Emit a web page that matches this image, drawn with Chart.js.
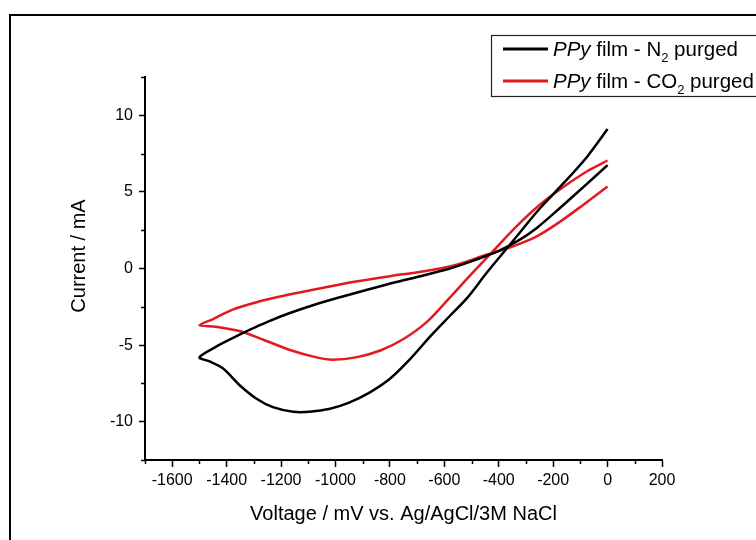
<!DOCTYPE html>
<html>
<head>
<meta charset="utf-8">
<script src="https://cdn.jsdelivr.net/npm/chart.js@4/dist/chart.umd.min.js"></script>
<style>
  html, body { margin: 0; padding: 0; background: #fff; }
  #wrap { width: 756px; height: 540px; position: relative; }
</style>
</head>
<body>
<div id="wrap"><canvas id="cv" width="756" height="540"></canvas></div>
<script>
// Cyclic voltammograms: forward sweep 0 -> -1500 mV, then return sweep -1500 -> 0 mV
const n2Voltage = [0, -75, -160, -250, -320, -385, -445, -515, -580, -650, -725, -800, -875, -950, -1020, -1095, -1155, -1230, -1290, -1350, -1415, -1465, -1500,
                   -1440, -1380, -1320, -1250, -1170, -1080, -980, -880, -780, -680, -580, -480, -400, -330, -260, -175, -90, 0];
const n2Current = [9.1, 7.3, 5.6, 3.9, 2.4, 1.0, -0.3, -1.9, -3.1, -4.4, -5.9, -7.2, -8.1, -8.75, -9.15, -9.35, -9.35, -9.05, -8.5, -7.65, -6.5, -6.05, -5.8,
                   -5.12, -4.56, -4.04, -3.48, -2.92, -2.38, -1.86, -1.37, -0.9, -0.47, 0.0, 0.6, 1.15, 1.8, 2.65, 3.95, 5.3, 6.75];

const co2Voltage = [0, -75, -160, -250, -335, -420, -505, -585, -665, -750, -835, -925, -1010, -1070, -1170, -1265, -1350, -1440, -1500,
                    -1450, -1380, -1290, -1170, -1045, -925, -800, -680, -565, -445, -355, -260, -175, -90, 0];
const co2Current = [7.05, 6.35, 5.35, 4.15, 2.75, 1.15, -0.45, -2.0, -3.5, -4.6, -5.35, -5.8, -5.95, -5.8, -5.3, -4.65, -4.1, -3.8, -3.7,
                    -3.3, -2.7, -2.2, -1.7, -1.25, -0.85, -0.5, -0.2, 0.2, 0.9, 1.4, 2.1, 3.05, 4.15, 5.35];

// Legend labels as styled runs: [text, style] where style is '' | 'i' (italic) | 'sub' (subscript)
const n2Label = [['PPy', 'i'], [' film - N', ''], ['2', 'sub'], [' purged', '']];
const co2Label = [['PPy', 'i'], [' film - CO', ''], ['2', 'sub'], [' purged', '']];

const xMajorTicks = [-1600, -1400, -1200, -1000, -800, -600, -400, -200, 0, 200];
const xMinorTicks = [-1700, -1500, -1300, -1100, -900, -700, -500, -300, -100, 100];
const yMajorTicks = [-10, -5, 0, 5, 10];
const yMinorTicks = [-12.5, -7.5, -2.5, 2.5, 7.5, 12.5];

const xTitle = 'Voltage / mV vs. Ag/AgCl/3M NaCl';
const yTitle = 'Current / mA';

const FONT = '"Liberation Sans", Arial, Helvetica, sans-serif';
const BLACK = '#000000';
const RED = 'rgb(226,26,32)';

function toPoints(xs, ys) {
  return xs.map((v, i) => ({ x: v, y: ys[i] }));
}

function drawRich(ctx, runs, x, y, size) {
  for (const [t, style] of runs) {
    const fs = style === 'sub' ? Math.round(size * 0.65) : size;
    ctx.font = (style === 'i' ? 'italic ' : '') + fs + 'px ' + FONT;
    ctx.fillText(t, x, style === 'sub' ? y + size * 0.27 : y);
    x += ctx.measureText(t).width;
  }
}

const decorPlugin = {
  id: 'decor',
  afterDraw(chart) {
    const ctx = chart.ctx;
    const xs = chart.scales.x, ys = chart.scales.y;
    const area = chart.chartArea;
    ctx.save();

    // outer frame (top and left edges)
    ctx.strokeStyle = BLACK;
    ctx.lineWidth = 2;
    ctx.beginPath();
    ctx.moveTo(10, 545);
    ctx.lineTo(10, 15);
    ctx.lineTo(760, 15);
    ctx.stroke();

    // minor ticks
    ctx.lineWidth = 1.5;
    ctx.beginPath();
    for (const v of xMinorTicks) {
      const px = Math.round(xs.getPixelForValue(v)) + 0.5;
      ctx.moveTo(px, area.bottom);
      ctx.lineTo(px, area.bottom + 4);
    }
    for (const v of yMinorTicks) {
      const py = Math.round(ys.getPixelForValue(v)) + 0.5;
      ctx.moveTo(area.left, py);
      ctx.lineTo(area.left - 4, py);
    }
    ctx.stroke();

    // y axis title
    ctx.fillStyle = BLACK;
    ctx.font = '20px ' + FONT;
    ctx.textAlign = 'center';
    ctx.textBaseline = 'middle';
    ctx.translate(79, 256);
    ctx.rotate(-Math.PI / 2);
    ctx.fillText(yTitle, 0, 0);
    ctx.setTransform(1, 0, 0, 1, 0, 0);

    // legend
    ctx.lineWidth = 1.2;
    ctx.strokeStyle = '#222';
    ctx.strokeRect(491.5, 35.5, 300, 61);
    const entries = [
      { label: n2Label, y: 49 },
      { label: co2Label, y: 81 }
    ];
    chart.data.datasets.forEach((ds, i) => {
      const e = entries[i];
      ctx.strokeStyle = ds.borderColor;
      ctx.lineWidth = 3;
      ctx.beginPath();
      ctx.moveTo(503, e.y);
      ctx.lineTo(548, e.y);
      ctx.stroke();
      ctx.fillStyle = BLACK;
      ctx.textAlign = 'left';
      ctx.textBaseline = 'alphabetic';
      drawRich(ctx, e.label, 553, e.y + 7, 20.5);
    });
    ctx.restore();
  }
};

new Chart(document.getElementById('cv').getContext('2d'), {
  type: 'scatter',
  data: {
    datasets: [
      {
        label: 'PPy film - N2 purged',
        data: toPoints(n2Voltage, n2Current),
        showLine: true,
        borderColor: BLACK,
        borderWidth: 2.5,
        pointRadius: 0,
        tension: 0.3,
        fill: false
      },
      {
        label: 'PPy film - CO2 purged',
        data: toPoints(co2Voltage, co2Current),
        showLine: true,
        borderColor: RED,
        borderWidth: 2.5,
        pointRadius: 0,
        tension: 0.3,
        fill: false
      }
    ]
  },
  options: {
    responsive: false,
    animation: false,
    devicePixelRatio: 1,
    layout: { padding: { left: 0, top: 77, right: 94, bottom: 0 } },
    plugins: { legend: { display: false }, tooltip: { enabled: false } },
    scales: {
      x: {
        type: 'linear',
        position: 'bottom',
        min: -1700,
        max: 200,
        afterBuildTicks: s => { s.ticks = xMajorTicks.map(v => ({ value: v })); },
        afterFit: s => { s.height = 80; },
        grid: { display: true, drawOnChartArea: false, drawTicks: true, tickLength: 7, tickColor: BLACK, tickWidth: 1.5 },
        border: { display: true, color: BLACK, width: 2 },
        ticks: {
          color: BLACK, padding: 4, maxRotation: 0, autoSkip: false,
          font: { family: FONT, size: 16 },
          callback: v => String(v)
        },
        title: {
          display: true, text: xTitle, color: BLACK,
          font: { family: FONT, size: 20 },
          padding: { top: 0, bottom: 14 }
        }
      },
      y: {
        type: 'linear',
        position: 'left',
        min: -12.5,
        max: 12.5,
        afterBuildTicks: s => { s.ticks = yMajorTicks.map(v => ({ value: v })); },
        afterFit: s => { s.width = 145; },
        grid: { display: true, drawOnChartArea: false, drawTicks: true, tickLength: 6, tickColor: BLACK, tickWidth: 1.5 },
        border: { display: true, color: BLACK, width: 2 },
        ticks: {
          color: BLACK, padding: 6, autoSkip: false,
          font: { family: FONT, size: 16 },
          callback: v => String(v)
        },
        title: { display: false }
      }
    }
  },
  plugins: [decorPlugin]
});
</script>
</body>
</html>
